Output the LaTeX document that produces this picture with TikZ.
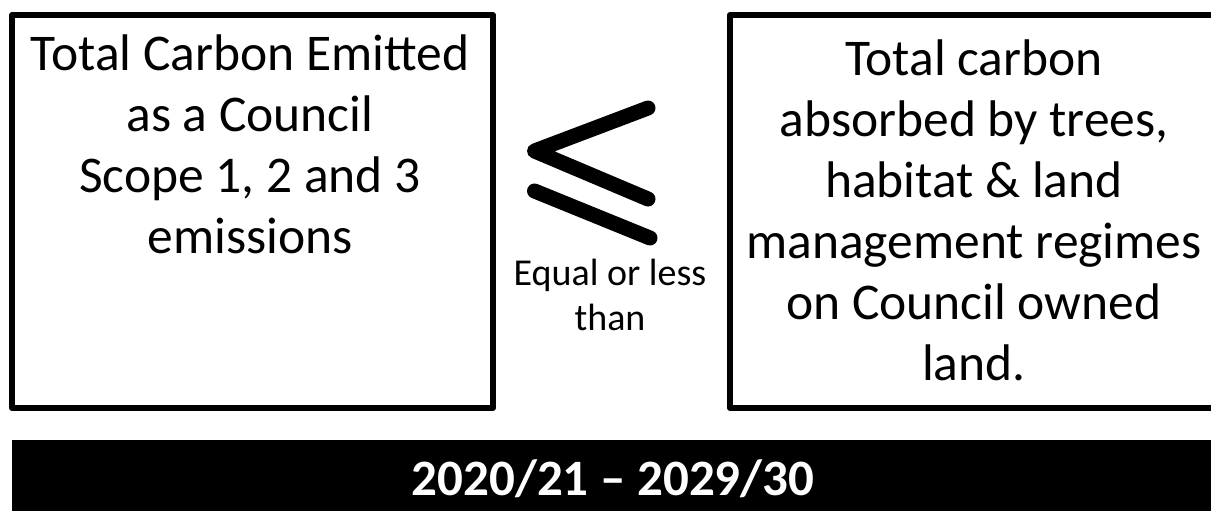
\documentclass[tikz,border=0pt]{standalone}
\usepackage{fontspec}
\setmainfont{Carlito}

\tikzset{
  panel/.style={draw, line width=6pt, line join=round, inner sep=0pt},
  paneltext/.style={align=center, inner sep=0pt, anchor=base, font=\fontsize{51.5}{61}\selectfont},
  signstroke/.style={line width=15pt, line cap=round, line join=round},
}

\begin{document}
\begin{tikzpicture}[x=1pt,y=-1pt]
  \useasboundingbox (0,0) rectangle (1211,511);
  \clip (0,0) rectangle (1211,511);

  % the two panels
  \node[panel, minimum width=481pt, minimum height=393pt] (emitted) at (252.5,211.5) {};
  \node[panel, minimum width=490pt, minimum height=393pt] (absorbed) at (975,211.5) {};

  % base anchor sits on the last line
  \node[paneltext] (emittedtext) at (250,253) {Total Carbon Emitted\\as a Council\\Scope 1, 2 and 3\\emissions};
  \node[paneltext] (absorbedtext) at (974,380) {Total carbon\\absorbed by trees,\\habitat \& land\\management regimes\\on Council owned\\land.};

  % the "less or equal" sign between them
  \draw[signstroke] (648,108) -- (534.5,151) -- (648,199);
  \draw[signstroke] (534.5,191) -- (650,238);
  \node[align=center, inner sep=0pt, anchor=base, font=\fontsize{38}{45}\selectfont] (relation) at (610,330) {Equal or less\\than};

  % period bar
  \node[fill=black, inner sep=0pt, anchor=north west, minimum width=1220pt, minimum height=90pt] (periodbar) at (12,440) {};
  \node[text=white, inner sep=0pt, anchor=base, font=\bfseries\fontsize{51}{61}\selectfont] (period) at (613,495) {2020/21 – 2029/30};
\end{tikzpicture}
\end{document}
